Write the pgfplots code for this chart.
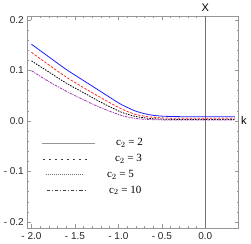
\documentclass[border=0pt]{standalone}
\usepackage{pgfplots}
\pgfplotsset{compat=1.18}
\usepackage{fontspec}
\setmainfont{Liberation Sans}
\newfontfamily\serifc{Liberation Serif}
\definecolor{myblue}{RGB}{30,30,255}
\definecolor{myred}{RGB}{255,40,40}
\definecolor{mypurple}{RGB}{160,50,180}
\definecolor{framegray}{RGB}{150,150,150}
\begin{document}
\begin{tikzpicture}
\begin{axis}[
  name=ax,
  scale only axis,
  width=211.4pt, height=212pt,
  xmin=-2.048, xmax=0.384,
  ymin=-0.212, ymax=0.208,
  xtick={-2,-1.5,-1,-0.5,0},
  xticklabels={- 2.0,- 1.5,- 1.0,- 0.5,0.0},
  ytick={-0.2,-0.1,0,0.1,0.2},
  yticklabels={- 0.2,- 0.1,0.0,0.1,0.2},
  minor x tick num=4,
  minor y tick num=4,
  tick align=inside,
  major tick length=4pt,
  minor tick length=2pt,
  every tick/.style={framegray, line width=0.5pt},
  axis line style={framegray, line width=0.6pt},
  tick label style={font=\fontsize{10}{12}\selectfont, text=black!85},
  xticklabel style={yshift=-1pt},
  xlabel={k},
  xlabel style={at={(axis description cs:1.01,0.505)}, anchor=west, font=\fontsize{11}{13}\selectfont, inner sep=0pt},
  ylabel={X},
  ylabel style={at={(axis description cs:0.842,1.02)}, anchor=south, rotate=-90, font=\fontsize{11}{13}\selectfont, inner sep=0pt},
  legend style={at={(0.065,0.432)}, anchor=north west, draw=none, fill=none,
    font=\serifc\fontsize{11}{12}\selectfont, row sep=3pt,
    legend cell align=left, inner sep=0pt},
  clip=true,
]
\addplot[black!55, line width=0.7pt, forget plot] coordinates {(0,-0.212) (0,0.208)};

\addplot[myblue, line width=0.8pt, smooth, forget plot] coordinates {
(-2.0,0.152) (-1.8,0.127) (-1.6,0.102) (-1.4,0.080) (-1.2,0.058) (-1.0,0.036)
(-0.9,0.027) (-0.8,0.0195) (-0.7,0.0145) (-0.6,0.0112) (-0.5,0.0096) (-0.4,0.0089) (-0.3,0.0086) (-0.2,0.0085) (0.0,0.0085) (0.34,0.0085)};
\addplot[myred, line width=0.8pt, dash pattern=on 2.5pt off 1.5pt, smooth, forget plot] coordinates {
(-2.0,0.136) (-1.8,0.111) (-1.6,0.087) (-1.4,0.066) (-1.2,0.046) (-1.0,0.027)
(-0.9,0.019) (-0.8,0.013) (-0.7,0.0095) (-0.6,0.0073) (-0.5,0.0062) (-0.4,0.0056) (-0.3,0.0054) (-0.2,0.0053) (0.0,0.0053) (0.34,0.0053)};
\addplot[black, line width=0.8pt, dash pattern=on 1.5pt off 1.2pt, smooth, forget plot] coordinates {
(-2.0,0.119) (-1.8,0.097) (-1.6,0.075) (-1.4,0.056) (-1.2,0.037) (-1.0,0.020)
(-0.9,0.0135) (-0.8,0.009) (-0.7,0.0062) (-0.6,0.0045) (-0.5,0.0037) (-0.4,0.0032) (-0.3,0.003) (0.0,0.003) (0.34,0.003)};
\addplot[mypurple, line width=0.8pt, dash pattern=on 2.5pt off 1pt on 1pt off 1pt, smooth, forget plot] coordinates {
(-2.0,0.0996) (-1.8,0.078) (-1.6,0.059) (-1.4,0.042) (-1.2,0.026) (-1.0,0.013)
(-0.9,0.008) (-0.8,0.005) (-0.7,0.0034) (-0.6,0.0026) (-0.5,0.0022) (-0.4,0.002) (0.0,0.002) (0.34,0.002)};

\addlegendimage{legend image code/.code={\draw[framegray, line width=0.8pt] (0pt,0pt) -- (53pt,0pt);}}
\addlegendentry{\hspace{19pt}c$_2$ = 2}
\addlegendimage{legend image code/.code={\draw[black!75, line width=0.5pt, dash pattern=on 2.5pt off 3.5pt] (1pt,0pt) -- (48pt,0pt);}}
\addlegendentry{\hspace{18pt}c$_2$ = 3}
\addlegendimage{legend image code/.code={\draw[black!55, line width=0.5pt, dash pattern=on 1pt off 1pt] (4pt,0pt) -- (42pt,0pt);}}
\addlegendentry{\hspace{10pt}c$_2$ = 5}
\addlegendimage{legend image code/.code={\draw[black!75, line width=0.5pt, dash pattern=on 3.5pt off 2pt on 0.6pt off 2pt] (5pt,0pt) -- (44pt,0pt);}}
\addlegendentry{\hspace{12pt}c$_2$ = 10}
\end{axis}
\pgfresetboundingbox
\path[use as bounding box] ([shift={(-27.3pt,-15pt)}]ax.south west) rectangle ([shift={(12.3pt,16pt)}]ax.north east);
\end{tikzpicture}
\end{document}
